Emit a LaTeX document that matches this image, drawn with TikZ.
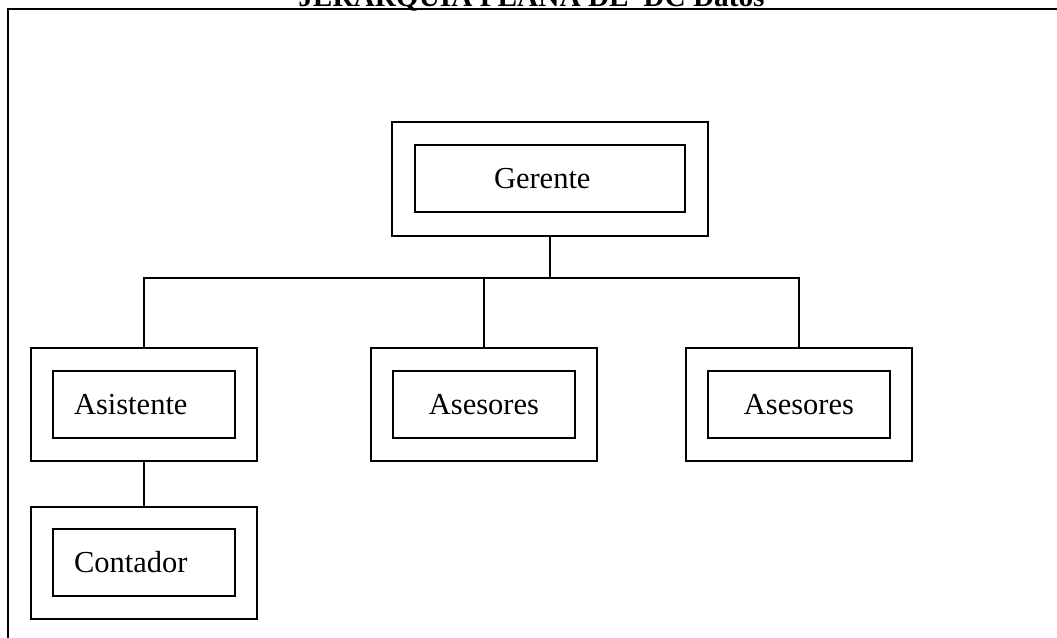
\documentclass[tikz,border=0pt]{standalone}
\usepackage{fontspec}
\setmainfont{Liberation Serif}
\begin{document}
\begin{tikzpicture}[x=1pt,y=-1pt,
  frame/.style={draw=black,line width=2pt},
  outerbox/.style={draw=black,line width=1.4pt,rectangle,minimum width=226pt,minimum height=113pt,inner sep=0pt},
  innerbox/.style={draw=black,line width=1.4pt,rectangle,minimum height=67pt,inner ysep=0pt,
     font=\fontsize{30.5}{36}\selectfont},
  leftlbl/.style={innerbox,text width=140pt,inner xsep=21pt,align=left,minimum width=182pt},
  ctrlbl/.style={innerbox,minimum width=182pt,align=center},
  link/.style={draw=black,line width=1.4pt}
]
\useasboundingbox (0,0) rectangle (1057,637);
\clip (0,0) rectangle (1057,637);
% outer frame and title
\draw[frame] (1070,9) -- (8,9) -- (8,650);
\node[anchor=base,font=\fontsize{29.3}{34}\selectfont\bfseries,inner sep=0pt] (title) at (531.5,6) {JERARQUIA PLANA DE\ \ DC Datos};
% Gerente
\node[outerbox,minimum width=316pt,minimum height=114pt] (go) at (550,179) {};
\node[innerbox,minimum width=270pt,text width=112pt,inner xsep=79pt,align=left] (g) at (550,178.5) {Gerente};
% Asistente
\node[outerbox] (ao) at (144,404.5) {};
\node[leftlbl] (a) at (144,404.5) {Asistente};
% Asesores 1
\node[outerbox] (s1o) at (484,404.5) {};
\node[ctrlbl] (s1) at (484,404.5) {Asesores};
% Asesores 2
\node[outerbox] (s2o) at (799,404.5) {};
\node[ctrlbl] (s2) at (799,404.5) {Asesores};
% Contador
\node[outerbox,minimum height=112pt] (co) at (144,563) {};
\node[leftlbl] (c) at (144,562.5) {Contador};
% connectors
\coordinate (bus) at (550,278);
\draw[link] (go.south) -- (go.south |- bus);
\draw[link] (ao.north) -- (ao.north |- bus) -- (s2o.north |- bus) -- (s2o.north);
\draw[link] (s1o.north) -- (s1o.north |- bus);
\draw[link] (ao.south) -- (co.north);
\end{tikzpicture}
\end{document}
